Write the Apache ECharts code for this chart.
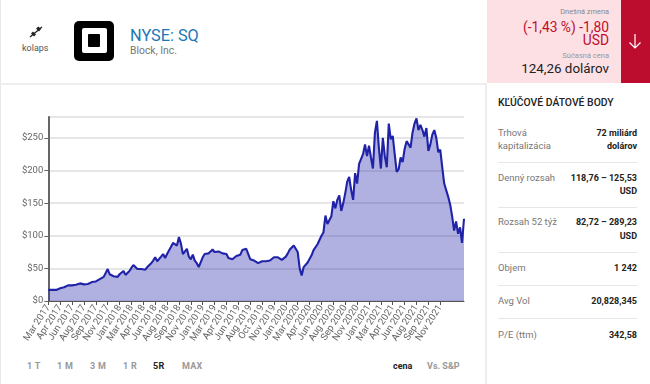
<!DOCTYPE html>
<html><head><meta charset="utf-8">
<script src="https://cdn.jsdelivr.net/npm/echarts@6/dist/echarts.min.js"></script>
<style>
html,body{margin:0;padding:0;background:#fff;width:650px;height:384px;overflow:hidden;font-family:Roboto,sans-serif}
.a{position:absolute;white-space:nowrap;line-height:14px}
.r{text-align:right}
.l{left:498px;color:#777;font-size:9.5px}
.v{right:13px;color:#222;font-size:9px;font-weight:700;text-align:right}
.s{position:absolute;left:498px;width:139px;height:1px;background:#e6e6e6}
.t{top:359px;font-size:9px;font-weight:700;color:#999;letter-spacing:.3px}
#c{position:absolute;left:0;top:0;width:650px;height:384px}
</style></head><body>
<div style="position:absolute;left:0;top:0;width:1px;height:384px;background:#e8e8e8"></div>
<div style="position:absolute;left:0;top:83px;width:487px;height:2px;background:#eee"></div>
<div style="position:absolute;left:485px;top:83px;width:2px;height:301px;background:#eee"></div>
<div style="position:absolute;left:487px;top:0;width:134px;height:83px;background:#fde0e4"></div>
<div style="position:absolute;left:621px;top:0;width:29px;height:83px;background:#bd0d2f"></div>
<svg style="position:absolute;left:626px;top:32px" width="20" height="20" viewBox="0 0 20 20"><path d="M8 2V16M2.5 10.5L8 16L13.5 10.5" transform="translate(1,0)" fill="none" stroke="#fff" stroke-width="1.2"/></svg>
<svg style="position:absolute;left:28px;top:24px" width="16" height="16" viewBox="0 0 16 16"><path d="M2 13L14 3" stroke="#222" stroke-width="1.3"/><path d="M5 7.5L8 10.5L6 12.5L3 9.5ZM8 4.5L11 7.5L13 5L10.5 2.5Z" fill="#222"/></svg>
<div class="a" style="left:22px;top:41px;font-size:9px;color:#555">kolaps</div>
<div style="position:absolute;left:74px;top:21px;width:40px;height:40px;border-radius:5px;background:#000"></div>
<div style="position:absolute;left:82px;top:28px;width:25px;height:25px;border-radius:2px;background:#fff"></div>
<div style="position:absolute;left:88px;top:34px;width:12px;height:13px;border-radius:1px;background:#000"></div>
<div class="a" style="left:130px;top:29px;font-size:16.3px;color:#1a76b8">NYSE: SQ</div>
<div class="a" style="left:130px;top:44px;font-size:10.4px;color:#777">Block, Inc.</div>
<div class="a r" style="right:41px;top:5px;font-size:7.4px;color:#888">Dnešná zmena</div>
<div class="a r" style="right:41px;top:20px;font-size:13.8px;color:#bd0d2f">(-1,43 %) -1,80</div>
<div class="a r" style="right:41px;top:33px;font-size:13.8px;color:#bd0d2f">USD</div>
<div class="a r" style="right:41px;top:49px;font-size:7.5px;color:#999">Súčasná cena</div>
<div class="a r" style="right:41px;top:62px;font-size:13.4px;color:#222">124,26 dolárov</div>
<div class="a" style="left:498px;top:96px;font-size:10.4px;font-weight:500;color:#222">KĽÚČOVÉ DÁTOVÉ BODY</div>
<div class="a l" style="top:126px">Trhová</div><div class="a l" style="top:139px">kapitalizácia</div>
<div class="a v" style="top:126px">72 miliárd</div><div class="a v" style="top:139px">dolárov</div>
<div class="s" style="top:162px"></div>
<div class="a l" style="top:171px">Denný rozsah</div>
<div class="a v" style="top:171px">118,76 – 125,53</div><div class="a v" style="top:184px">USD</div>
<div class="s" style="top:207px"></div>
<div class="a l" style="top:215px">Rozsah 52 týž</div>
<div class="a v" style="top:215px">82,72 – 289,23</div><div class="a v" style="top:229px">USD</div>
<div class="s" style="top:252px"></div>
<div class="a l" style="top:261px">Objem</div><div class="a v" style="top:261px">1 242</div>
<div class="s" style="top:285px"></div>
<div class="a l" style="top:294px">Avg Vol</div><div class="a v" style="top:294px">20,828,345</div>
<div class="s" style="top:318px"></div>
<div class="a l" style="top:328px">P/E (ttm)</div><div class="a v" style="top:328px">342,58</div>
<div class="a t" style="left:27px">1 T</div>
<div class="a t" style="left:57px">1 M</div>
<div class="a t" style="left:90px">3 M</div>
<div class="a t" style="left:123px">1 R</div>
<div class="a t" style="left:153px;color:#222">5R</div>
<div class="a t" style="left:182px">MAX</div>
<div class="a t" style="left:393px;color:#222;letter-spacing:0">cena</div>
<div class="a t" style="left:427px;letter-spacing:0">Vs. S&amp;P</div>
<div id="c"></div>
<script>
var tickLabels = ["Mar 2017","Apr 2017","Jun 2017","Aug 2017","Sep 2017","Nov 2017","Jan 2018","Mar 2018","Apr 2018","Jun 2018","Aug 2018","Sep 2018","Nov 2018","Jan 2019","Mar 2019","Apr 2019","Jun 2019","Aug 2019","Oct 2019","Nov 2019","Jan 2020","Mar 2020","Apr 2020","Jun 2020","Aug 2020","Sep 2020","Nov 2020","Jan 2021","Mar 2021","Apr 2021","Jun 2021","Aug 2021","Sep 2021","Nov 2021"];
var prices2017to2018 = [17,17,17,17,17,18,19.5,20.5,21,22.5,24,24.5,24,24,25,27,27,26,25.5,25.5,26,27,29,28.5,30,32,33.5,34,37,39,49,41,38.5,38,35,37,41,44,46,40,42,46,51,55,57,49,47,49,46,48,52,54,58,62,67,61,63,68,72,66,72,75,83,89,90,85,98,88,72,70,80,68,64,71,62,58,52,54,67,72,70,73,75,79,75,76,76,74,73,73,72,66,65,64,62,69,72,71,78,81,80,79];
var prices2019to2020 = [64,63,62,60,58,58,61,62,61,61,62,63,67,69,67,65,63,63,68,73,79,82,85,82,75,50,39,52,50,59,61,70,78,80,87,85,100,105,131,118,120,130,153,142,155,162,138,150,165,183,190,170,155,196,180,210,213,225,240,222,238,220,203];
var prices2021 = [258,276,235,203,250,222,205,272,248,253,225,198,202,220,213,233,245,240,235,258,272,280,262,270,262,252,265,230,240,255,262,250,228,232,205,180,170,160,148,130,108,122,103,113,89,126];
var prices = prices2017to2018.concat(prices2019to2020, prices2021);
var slotsPerTick = 6;
var categories = prices.map(function(_, i){ return i % slotsPerTick === 0 ? (tickLabels[i / slotsPerTick] || "") : ""; });
var isTick = function(i){ return i % slotsPerTick === 0 && i / slotsPerTick < tickLabels.length; };
var chart = echarts.init(document.getElementById('c'), null, {renderer:'canvas'});
chart.setOption({
  animation:false,
  grid:{left:48.3,right:186,top:117,bottom:83,containLabel:false},
  xAxis:{type:'category',data:categories,boundaryGap:false,
    axisLine:{lineStyle:{color:'#555',width:1}},
    axisTick:{interval:function(i){return isTick(i);},length:4,lineStyle:{color:'#555'}},
    axisLabel:{interval:function(i){return isTick(i);},showMinLabel:true,rotate:57,fontSize:9.6,color:'#666',fontFamily:'Roboto',margin:5,hideOverlap:false},
    splitLine:{show:false}},
  yAxis:{type:'value',min:0,max:282,interval:50,
    axisLine:{show:true,lineStyle:{color:'#666',width:2}},
    axisTick:{show:true,length:4,lineStyle:{color:'#666'}},
    axisLabel:{showMaxLabel:false,formatter:function(v){return '$'+v;},fontSize:9.5,color:'#666',fontFamily:'Roboto',margin:5},
    splitLine:{show:true,lineStyle:{color:'#dedede',width:1.5}}},
  series:[{type:'line',data:prices,symbol:'none',smooth:false,
    lineStyle:{color:'#2023a8',width:2.1},
    areaStyle:{color:'#2427aa',opacity:0.36},z:3}]
});
</script>
</body></html>
